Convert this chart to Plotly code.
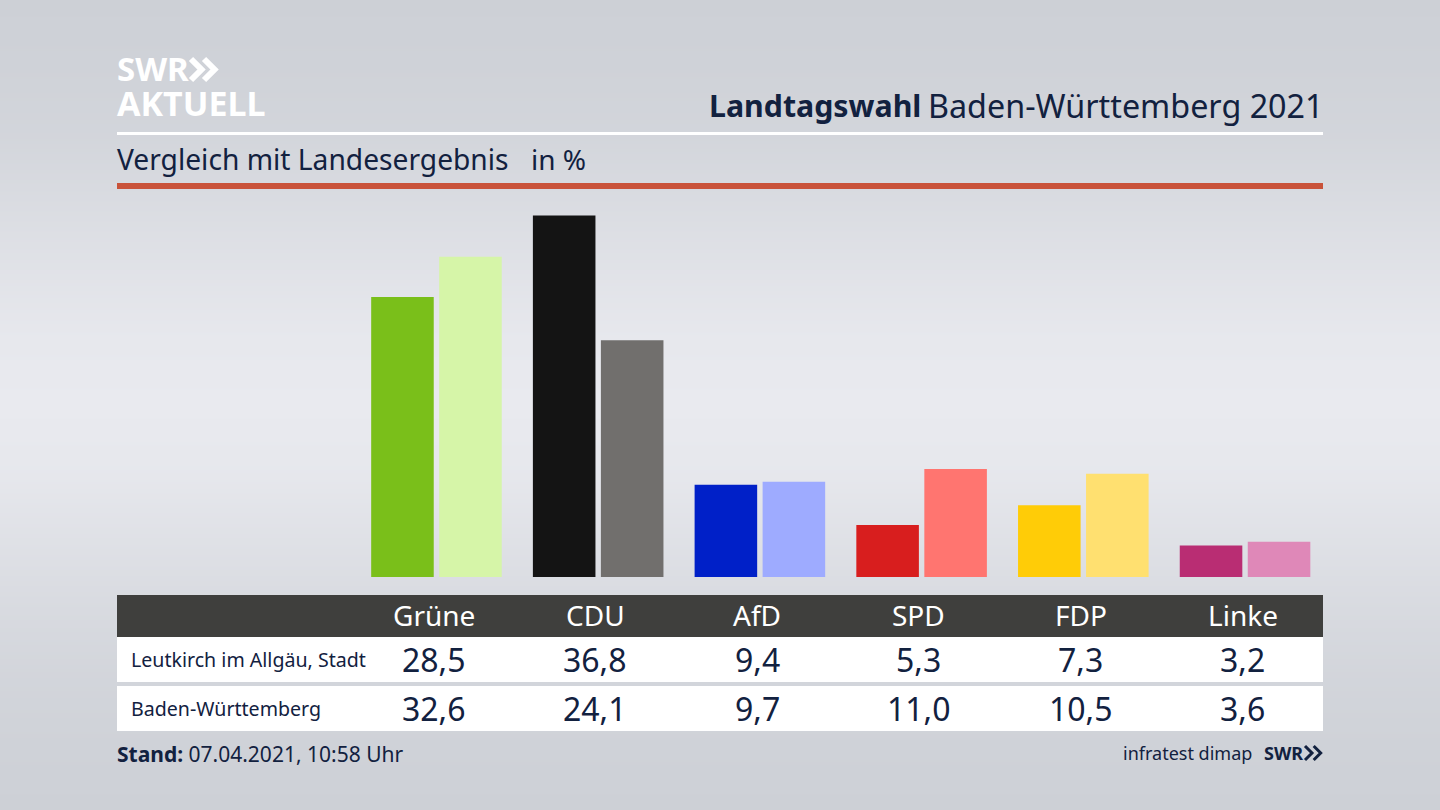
import plotly.graph_objects as go

parties = ["Grüne", "CDU", "AfD", "SPD", "FDP", "Linke"]
leutkirch = [28.5, 36.8, 9.4, 5.3, 7.3, 3.2]
land = [32.6, 24.1, 9.7, 11.0, 10.5, 3.6]
row_names = ["Leutkirch im Allgäu, Stadt", "Baden-Württemberg"]

colors_leutkirch = ["#7abf1a", "#141414", "#0020c8", "#d81e1e", "#ffcc07", "#b92d73"]
colors_land = ["#d6f5a8", "#716f6d", "#9eabff", "#ff7570", "#ffe070", "#df88b8"]

# background brightness, top to bottom
bg_levels = [0.0, 0.08, 0.2, 0.45, 0.7, 0.92, 1.0, 0.9, 0.65, 0.4, 0.2, 0.08, 0.0]
bg_scale = [[0, "#cdd0d6"], [1, "#e9eaef"]]

W, H = 1440, 810
NAVY = "#12213f"
FONT = "Noto Sans"


def px(x):
    return x / W


def py(y):
    return 1 - y / H


def label(x, y, text, size, color=NAVY, anchor="center"):
    # annotations keep a small padding, take it back so the ink sits on x
    shift = {"left": -2, "right": 3, "center": 0}[anchor]
    fig.add_annotation(
        x=px(x), y=py(y), xref="paper", yref="paper", text=text, showarrow=False,
        xanchor=anchor, yanchor="middle", xshift=shift,
        font=dict(family=FONT, size=size, color=color),
    )


def rect(x0, y0, x1, y1, color):
    fig.add_shape(
        type="rect", xref="paper", yref="paper", x0=px(x0), x1=px(x1), y0=py(y0), y1=py(y1),
        fillcolor=color, line_width=0,
    )


def chevrons(x, y, h, color, stroke):
    # the two arrows of the SWR logo
    for dx in (0, h * 0.62):
        path = (
            f"M {px(x + dx)} {py(y)} L {px(x + dx + h * 0.5)} {py(y + h / 2)} "
            f"L {px(x + dx)} {py(y + h)}"
        )
        fig.add_shape(type="path", xref="paper", yref="paper", path=path,
                      line=dict(color=color, width=stroke))


fig = go.Figure()

fig.add_trace(go.Heatmap(
    z=[[v, v] for v in bg_levels], colorscale=bg_scale, zmin=0, zmax=1, zsmooth="best",
    showscale=False, hoverinfo="skip", xaxis="x", yaxis="y",
))
fig.add_trace(go.Bar(
    x=parties, y=leutkirch, name=row_names[0], marker_color=colors_leutkirch,
    marker_line_width=0, xaxis="x2", yaxis="y2",
))
fig.add_trace(go.Bar(
    x=parties, y=land, name=row_names[1], marker_color=colors_land,
    marker_line_width=0, xaxis="x2", yaxis="y2",
))

fig.update_layout(
    width=W, height=H, autosize=False,
    margin=dict(l=0, r=0, t=0, b=0),
    paper_bgcolor="#d8dae0",
    plot_bgcolor="rgba(0,0,0,0)",
    showlegend=False,
    barmode="group",
    bargap=0.159,
    bargroupgap=0.08,
    xaxis=dict(domain=[0, 1], visible=False, range=[0, 1]),
    yaxis=dict(domain=[0, 1], visible=False, range=[len(bg_levels) - 1, 0]),
    xaxis2=dict(domain=[px(355.6), px(1325.9)], visible=False, anchor="y2"),
    yaxis2=dict(domain=[py(577), py(184)], visible=False, range=[0, 40], anchor="x2"),
)

# header
label(117, 69, "<b>SWR</b>", 33, "#ffffff", "left")
chevrons(191, 59, 21, "#ffffff", 6)
label(117, 103, "<b>AKTUELL</b>", 34, "#ffffff", "left")
label(709, 105, "<b>Landtagswahl</b>", 30.3, anchor="left")
label(1323, 105, "Baden-Württemberg 2021", 32.3, anchor="right")
rect(117, 132, 1323, 135, "#ffffff")
label(117, 159, "Vergleich mit Landesergebnis", 28.2, anchor="left")
label(531, 159, "in %", 28, anchor="left")
rect(117, 183, 1323, 189, "#c9533a")

# table
rect(117, 595, 1323, 637, "#3f3f3d")
rect(117, 637, 1323, 682, "#ffffff")
rect(117, 686, 1323, 731, "#ffffff")
label(131, 659, row_names[0], 19.6, anchor="left")
label(131, 708, row_names[1], 19.6, anchor="left")
for i, party in enumerate(parties):
    cx = 433.5 + i * 161.8
    label(cx, 615, party, 28, "#ffffff")
    label(cx, 659, f"{leutkirch[i]:.1f}".replace(".", ","), 32)
    label(cx, 708, f"{land[i]:.1f}".replace(".", ","), 32)

# footer
label(117, 754, "<b>Stand:</b> 07.04.2021, 10:58 Uhr", 21, anchor="left")
label(1251, 753, "infratest dimap", 18, anchor="right")
label(1264, 753, "<b>SWR</b>", 18, anchor="left")
chevrons(1305, 746, 14, NAVY, 3)

fig.write_html("out.html", config={"displayModeBar": False},
               post_script="document.body.style.margin='0';")
